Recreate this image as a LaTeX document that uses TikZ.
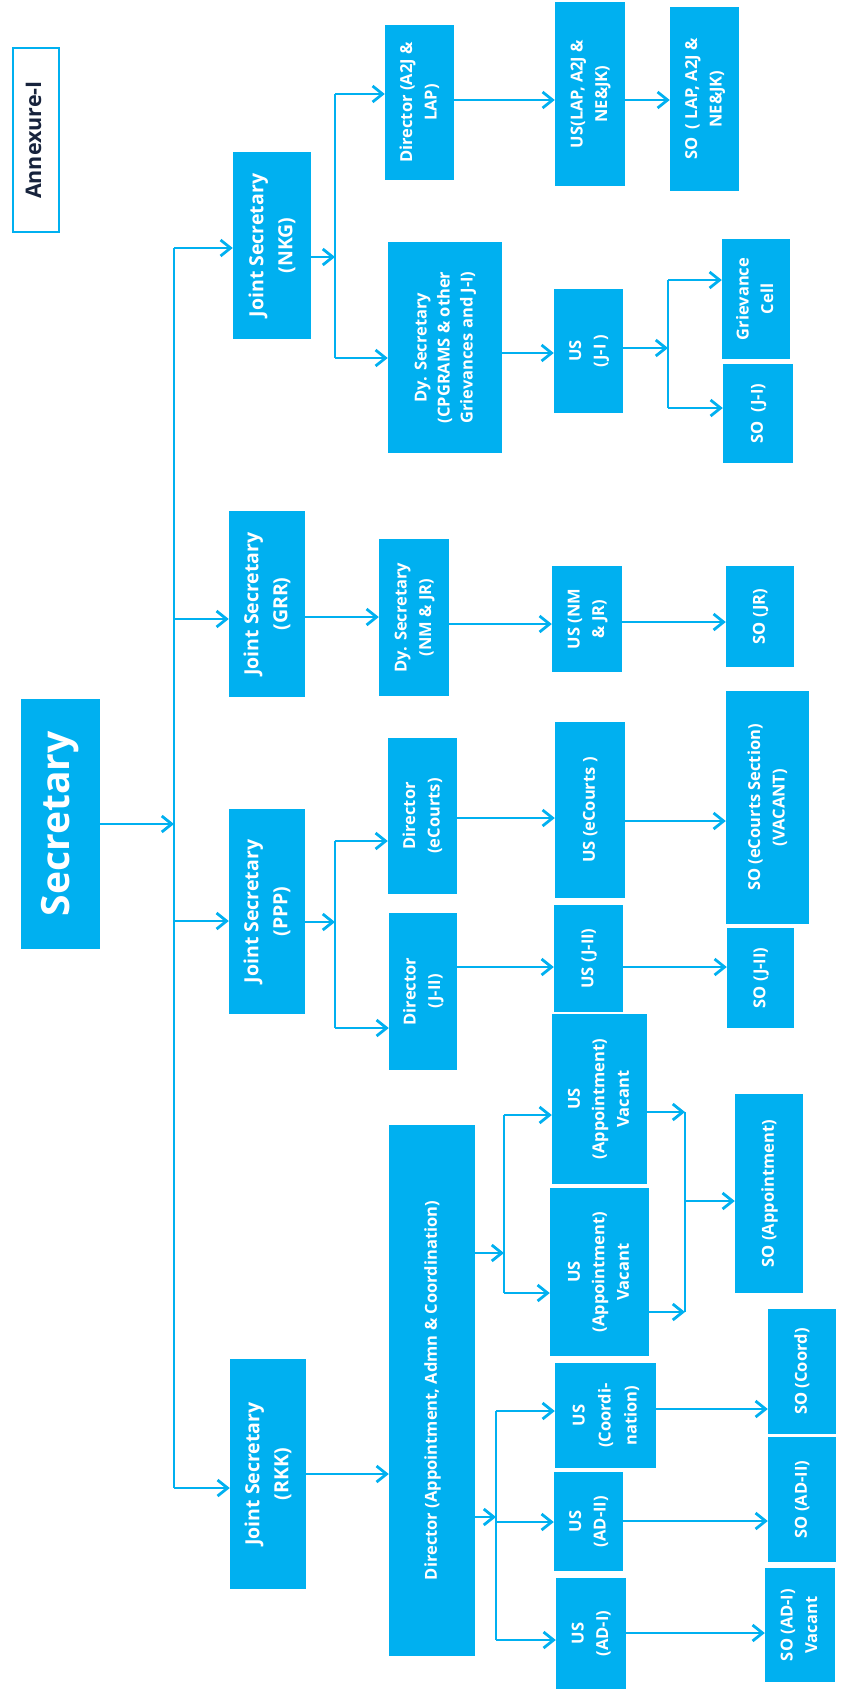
\documentclass[tikz,border=0pt]{standalone}
\usepackage{fontspec}
\setmainfont{Open Sans}
\usepackage{graphicx}
\usetikzlibrary{arrows.meta}
\definecolor{cb}{RGB}{0,176,240}
\definecolor{navy}{RGB}{23,35,60}
\newcommand\vt[3]{\rotatebox{90}{\fontsize{#1}{#2}\selectfont\begin{tabular}{@{}c@{}}#3\end{tabular}}}
\newcommand\bx[6]{\node[box, minimum width={(#4-#2)*1pt}, minimum height={(#5-#3)*1pt}] (#1) at ({(#2+#4)/2},{(#3+#5)/2}) {#6};}
\newcommand\js[1]{\vt{19.5}{29}{#1}}
\newcommand\sm[1]{\vt{16.5}{24.5}{#1}}
\tikzset{
  box/.style={fill=cb, draw=none, inner sep=0pt, text=white, font=\bfseries},
  annexbox/.style={fill=white, draw=cb, line width=2.5pt, inner sep=0pt, text=navy, font=\bfseries},
  ln/.style={draw=cb, line width=2.8pt},
  arr/.style={draw=cb, line width=2.8pt, -{Straight Barb[length=10pt,width=16pt]}}
}
\begin{document}
\begin{tikzpicture}[x=1pt,y=-1pt]
\useasboundingbox (0,0) rectangle (853,1691);
% boxes
\node[annexbox, minimum width=46pt, minimum height=184pt] (annex) at (36,140) {\vt{21.5}{26}{Annexure-I}};
\bx{sec}{21}{699}{100}{949}{\vt{39}{46}{Secretary}}
\bx{jsnkg}{233}{152}{311}{339}{\js{Joint Secretary\\(NKG)}}
\bx{jsgrr}{229}{511}{305}{697}{\js{Joint Secretary\\(GRR)}}
\bx{jsppp}{229}{809}{305}{1014}{\js{Joint Secretary\\(PPP)}}
\bx{jsrkk}{230}{1359}{306}{1589}{\js{Joint Secretary\\(RKK)}}
\bx{dira2j}{385}{25}{454}{180}{\sm{Director (A2J \&\\LAP)}}
\bx{usa2j}{555}{2}{625}{186}{\sm{US(LAP, A2J \&\\NE\&JK)}}
\bx{soa2j}{670}{7}{739}{191}{\sm{SO\ \ ( LAP, A2J \&\\NE\&JK)}}
\bx{dycp}{388}{242}{502}{453}{\vt{16.5}{23}{Dy. Secretary\\(CPGRAMS \& other\\Grievances and J-I)}}
\bx{usj1}{554}{289}{623}{413}{\sm{US\\(J-I )}}
\bx{grc}{722}{239}{790}{359}{\sm{Grievance\\Cell}}
\bx{soj1}{723}{364}{793}{463}{\sm{SO\ \ (J-I)}}
\bx{dynm}{379}{539}{449}{696}{\sm{Dy. Secretary\\(NM \& JR)}}
\bx{usnm}{552}{566}{622}{672}{\sm{US (NM\\\& JR)}}
\bx{sojr}{726}{566}{794}{667}{\sm{SO (JR)}}
\bx{direc}{388}{738}{457}{894}{\sm{Director\\(eCourts)}}
\bx{usec}{555}{722}{625}{898}{\sm{US (eCourts )}}
\bx{soec}{726}{691}{809}{924}{\sm{SO (eCourts Section)\\(VACANT)}}
\bx{dirj2}{389}{913}{457}{1070}{\sm{Director\\(J-II)}}
\bx{usj2}{554}{905}{623}{1012}{\sm{US (J-II)}}
\bx{soj2}{727}{928}{794}{1028}{\sm{SO (J-II)}}
\bx{usapp1}{552}{1014}{647}{1184}{\sm{US\\(Appointment)\\Vacant}}
\bx{usapp2}{550}{1188}{649}{1356}{\sm{US\\(Appointment)\\Vacant}}
\bx{soapp}{735}{1094}{803}{1293}{\sm{SO (Appointment)}}
\bx{dirapp}{389}{1125}{475}{1656}{\sm{Director (Appointment, Admn \& Coordination)}}
\bx{uscoord}{555}{1363}{656}{1468}{\vt{16.5}{26}{US\\(Coordi-\\nation)}}
\bx{usad2}{554}{1472}{623}{1571}{\sm{US\\(AD-II)}}
\bx{usad1}{556}{1578}{626}{1689}{\sm{US\\(AD-I)}}
\bx{socoord}{768}{1309}{836}{1434}{\sm{SO (Coord)}}
\bx{soad2}{768}{1437}{836}{1562}{\sm{SO (AD-II)}}
\bx{soad1}{765}{1568}{835}{1682}{\sm{SO (AD-I)\\Vacant}}
% trunk
\coordinate (t1) at (174,248);
\coordinate (t2) at (174,619);
\coordinate (t3) at (174,921);
\coordinate (t4) at (174,1488);
\draw[ln] (t1) -- (t4);
\draw[arr] (sec.east) -- (sec.east -| t1);
\draw[arr] (t1) -- (t1 -| jsnkg.west);
\draw[arr] (t2) -- (t2 -| jsgrr.west);
\draw[arr] (t3) -- (t3 -| jsppp.west);
\draw[arr] (t4) -- (t4 -| jsrkk.west);
% NKG
\coordinate (b1a) at (335,94);
\coordinate (b1b) at (335,358);
\coordinate (b1c) at (335,257);
\draw[ln] (b1a) -- (b1b);
\draw[arr] (b1c -| jsnkg.east) -- (b1c);
\draw[arr] (b1a) -- (b1a -| dira2j.west);
\draw[arr] (b1b) -- (b1b -| dycp.west);
\coordinate (c1) at (0,100);
\draw[arr] (c1 -| dira2j.east) -- (c1 -| usa2j.west);
\draw[arr] (c1 -| usa2j.east) -- (c1 -| soa2j.west);
\coordinate (c2) at (0,353);
\draw[arr] (c2 -| dycp.east) -- (c2 -| usj1.west);
\coordinate (b2a) at (668,280);
\coordinate (b2b) at (668,408);
\coordinate (b2c) at (668,348);
\draw[ln] (b2a) -- (b2b);
\draw[arr] (b2c -| usj1.east) -- (b2c);
\draw[arr] (b2a) -- (b2a -| grc.west);
\draw[arr] (b2b) -- (b2b -| soj1.west);
% GRR
\coordinate (c3) at (0,617);
\coordinate (c4) at (0,624);
\coordinate (c5) at (0,622);
\draw[arr] (c3 -| jsgrr.east) -- (c3 -| dynm.west);
\draw[arr] (c4 -| dynm.east) -- (c4 -| usnm.west);
\draw[arr] (c5 -| usnm.east) -- (c5 -| sojr.west);
% PPP
\coordinate (b3a) at (335,841);
\coordinate (b3b) at (335,1028);
\coordinate (b3c) at (335,922);
\draw[ln] (b3a) -- (b3b);
\draw[arr] (b3c -| jsppp.east) -- (b3c);
\draw[arr] (b3a) -- (b3a -| direc.west);
\draw[arr] (b3b) -- (b3b -| dirj2.west);
\coordinate (c6) at (0,818);
\coordinate (c7) at (0,821);
\draw[arr] (c6 -| direc.east) -- (c6 -| usec.west);
\draw[arr] (c7 -| usec.east) -- (c7 -| soec.west);
\coordinate (c8) at (0,967);
\draw[arr] (c8 -| dirj2.east) -- (c8 -| usj2.west);
\draw[arr] (c8 -| usj2.east) -- (c8 -| soj2.west);
% RKK
\coordinate (c9) at (0,1474);
\draw[arr] (c9 -| jsrkk.east) -- (c9 -| dirapp.west);
\coordinate (b4a) at (504,1115);
\coordinate (b4b) at (504,1293);
\coordinate (b4c) at (504,1253);
\draw[ln] (b4a) -- (b4b);
\draw[arr] (b4c -| dirapp.east) -- (b4c);
\draw[arr] (b4a) -- (b4a -| usapp1.west);
\draw[arr] (b4b) -- (b4b -| usapp2.west);
\coordinate (b5a) at (685,1112);
\coordinate (b5b) at (685,1312);
\coordinate (b5c) at (685,1201);
\draw[ln] (b5a) -- (b5b);
\draw[arr] (b5a -| usapp1.east) -- (b5a);
\draw[arr] (b5b -| usapp2.east) -- (b5b);
\draw[arr] (b5c) -- (b5c -| soapp.west);
\coordinate (b6a) at (496,1411);
\coordinate (b6b) at (496,1640);
\coordinate (b6c) at (496,1517);
\coordinate (c10) at (0,1522);
\draw[ln] (b6a) -- (b6b);
\draw[arr] (b6c -| dirapp.east) -- (b6c);
\draw[arr] (b6a) -- (b6a -| uscoord.west);
\draw[arr] (c10 -| b6a) -- (c10 -| usad2.west);
\draw[arr] (b6b) -- (b6b -| usad1.west);
\coordinate (c11) at (0,1409);
\coordinate (c12) at (0,1521);
\coordinate (c13) at (0,1633);
\draw[arr] (c11 -| uscoord.east) -- (c11 -| socoord.west);
\draw[arr] (c12 -| usad2.east) -- (c12 -| soad2.west);
\draw[arr] (c13 -| usad1.east) -- (c13 -| soad1.west);
\end{tikzpicture}
\end{document}
